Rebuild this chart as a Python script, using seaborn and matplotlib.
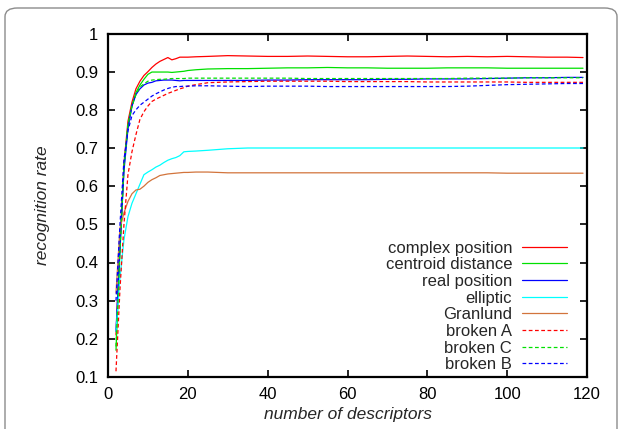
import numpy as np
import pandas as pd
import seaborn as sns
import matplotlib.pyplot as plt
from matplotlib.patches import FancyBboxPatch

# number of descriptors (x) and recognition rate per method
n_desc = [2, 3, 4, 5, 6, 7, 8, 9, 10, 11, 12, 13, 14, 15, 16, 17, 18, 19, 20,
          22, 25, 30, 35, 40, 45, 50, 55, 60, 65, 70, 75, 80, 85, 90, 95, 100,
          105, 110, 115, 119]

complex_position = [0.21, 0.45, 0.66, 0.77, 0.82, 0.855, 0.875, 0.89, 0.90, 0.911,
                    0.92, 0.927, 0.932, 0.937, 0.931, 0.934, 0.938, 0.938, 0.938,
                    0.939, 0.940, 0.942, 0.941, 0.940, 0.940, 0.941, 0.940, 0.939,
                    0.939, 0.940, 0.941, 0.940, 0.939, 0.940, 0.939, 0.940, 0.939,
                    0.938, 0.938, 0.937]
centroid_distance = [0.17, 0.43, 0.65, 0.76, 0.81, 0.845, 0.865, 0.88, 0.893, 0.899,
                     0.899, 0.899, 0.899, 0.899, 0.898, 0.899, 0.900, 0.901, 0.903,
                     0.905, 0.907, 0.908, 0.908, 0.909, 0.910, 0.910, 0.911, 0.910,
                     0.910, 0.909, 0.909, 0.909, 0.910, 0.910, 0.910, 0.909, 0.909,
                     0.909, 0.909, 0.909]
real_position = [0.22, 0.44, 0.64, 0.75, 0.81, 0.84, 0.855, 0.865, 0.87, 0.872,
                 0.876, 0.877, 0.878, 0.878, 0.878, 0.877, 0.876, 0.877, 0.877,
                 0.877, 0.877, 0.877, 0.877, 0.878, 0.878, 0.879, 0.879, 0.879,
                 0.879, 0.880, 0.880, 0.881, 0.881, 0.881, 0.882, 0.883, 0.884,
                 0.884, 0.885, 0.885]
elliptic = [0.22, 0.36, 0.46, 0.52, 0.555, 0.58, 0.605, 0.63, 0.637, 0.643,
            0.65, 0.655, 0.662, 0.668, 0.672, 0.675, 0.68, 0.69, 0.691,
            0.692, 0.694, 0.698, 0.700, 0.700, 0.700, 0.700, 0.700, 0.700,
            0.700, 0.700, 0.700, 0.700, 0.700, 0.700, 0.700, 0.700, 0.700,
            0.700, 0.700, 0.700]
granlund = [0.32, 0.49, 0.53, 0.56, 0.58, 0.59, 0.592, 0.60, 0.61, 0.617,
            0.622, 0.628, 0.63, 0.632, 0.633, 0.634, 0.635, 0.636, 0.636,
            0.637, 0.637, 0.635, 0.635, 0.635, 0.635, 0.635, 0.635, 0.635,
            0.635, 0.635, 0.635, 0.635, 0.635, 0.635, 0.635, 0.634, 0.634,
            0.634, 0.634, 0.634]
broken_a = [0.115, 0.33, 0.50, 0.63, 0.69, 0.735, 0.775, 0.795, 0.81, 0.822,
            0.828, 0.833, 0.838, 0.843, 0.847, 0.851, 0.855, 0.858, 0.862,
            0.866, 0.871, 0.873, 0.874, 0.875, 0.875, 0.875, 0.875, 0.874,
            0.874, 0.874, 0.874, 0.873, 0.873, 0.873, 0.873, 0.873, 0.872,
            0.872, 0.872, 0.872]
broken_c = [0.18, 0.43, 0.65, 0.76, 0.81, 0.84, 0.86, 0.868, 0.875, 0.878,
            0.879, 0.880, 0.880, 0.881, 0.882, 0.882, 0.882, 0.882, 0.883,
            0.883, 0.883, 0.883, 0.883, 0.883, 0.883, 0.882, 0.882, 0.882,
            0.882, 0.882, 0.882, 0.882, 0.882, 0.883, 0.883, 0.883, 0.884,
            0.884, 0.884, 0.884]
broken_b = [0.30, 0.50, 0.67, 0.745, 0.785, 0.80, 0.812, 0.82, 0.828, 0.836,
            0.842, 0.847, 0.852, 0.856, 0.859, 0.861, 0.861, 0.862, 0.862,
            0.863, 0.863, 0.862, 0.861, 0.862, 0.862, 0.862, 0.861, 0.861,
            0.861, 0.861, 0.861, 0.861, 0.861, 0.862, 0.864, 0.866, 0.867,
            0.868, 0.869, 0.869]

series = [
    ("complex position", complex_position, "#ff0000", "-"),
    ("centroid distance", centroid_distance, "#00e000", "-"),
    ("real position", real_position, "#0000ff", "-"),
    ("elliptic", elliptic, "#00ffff", "-"),
    ("Granlund", granlund, "#d2743c", "-"),
    ("broken A", broken_a, "#ff0000", (0, (3, 2))),
    ("broken C", broken_c, "#00e000", (0, (3, 2))),
    ("broken B", broken_b, "#0000ff", (0, (3, 2))),
]

x_ticks = [0, 20, 40, 60, 80, 100, 120]
y_ticks = [0.1, 0.2, 0.3, 0.4, 0.5, 0.6, 0.7, 0.8, 0.9, 1.0]
y_tick_labels = ["0.1", "0.2", "0.3", "0.4", "0.5", "0.6", "0.7", "0.8", "0.9", "1"]

sns.set_style("ticks")
plt.rcParams['font.family'] = ['Liberation Sans', 'DejaVu Sans']

fig = plt.figure(figsize=(6.23, 4.29), dpi=100)
ax = fig.add_axes([108 / 623, 1 - 377 / 429, 479 / 623, 343.5 / 429])

# rounded frame around the whole figure
frame = FancyBboxPatch((5 / 623, -0.05), 612 / 623, 1 - 8 / 429 + 0.05,
                       boxstyle="round,pad=0,rounding_size=0.02",
                       transform=fig.transFigure, facecolor="none",
                       edgecolor="#8c8c8c", linewidth=1.0, clip_on=False)
fig.patches.append(frame)

for name, vals, color, ls in series:
    sns.lineplot(x=n_desc, y=vals, ax=ax, color=color, linestyle=ls,
                 linewidth=0.9, label=name)

ax.set_xlim(0, 120)
ax.set_ylim(0.1, 1.0)
ax.set_xticks(x_ticks)
ax.set_yticks(y_ticks)
ax.set_yticklabels(y_tick_labels)
ax.tick_params(direction="in", length=5, width=1.2, top=True, right=True,
               labelsize=12, pad=7, colors="black")
for sp in ax.spines.values():
    sp.set_linewidth(1.6)
    sp.set_color("black")

ax.set_xlabel("number of descriptors", fontsize=12.5, style="italic", labelpad=4)
ax.set_ylabel("recognition rate", fontsize=12.5, style="italic", labelpad=18)

leg = ax.legend(loc="lower right", bbox_to_anchor=(0.983, -0.02), frameon=False,
                markerfirst=False, fontsize=12, handlelength=2.7,
                handletextpad=0.6, labelspacing=0.1, borderaxespad=0.3)

fig.savefig("out.png", dpi=100)
